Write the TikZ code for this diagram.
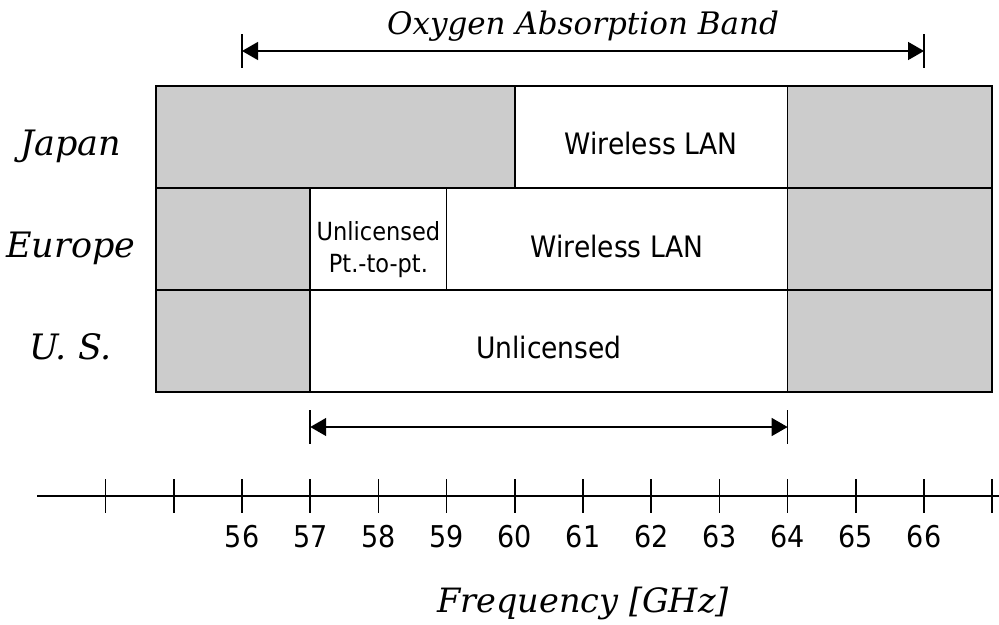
\documentclass[tikz,border=0pt]{standalone}
\usepackage{fontspec}
\setmainfont{DejaVu Serif}
\setsansfont{DejaVu Sans Condensed}
\usetikzlibrary{arrows.meta}

\tikzset{
  band/.style={draw=black, line width=1.5pt, fill=white},
  blocked/.style={band, fill=gray!40},
  celltext/.style={font=\sffamily\fontsize{29.5}{30}\selectfont, anchor=base, inner sep=0pt},
  smalltext/.style={font=\sffamily\fontsize{25}{32}\selectfont, align=center, inner sep=0pt},
  rowname/.style={font=\itshape\fontsize{35}{40}\selectfont, anchor=base, inner sep=0pt},
  caption/.style={font=\itshape\fontsize{31}{34}\selectfont, anchor=base, inner sep=0pt},
  ticklabel/.style={font=\sffamily\fontsize{30}{30}\selectfont, anchor=base, inner sep=0pt},
  rule/.style={line width=1.5pt},
  span/.style={rule, {Triangle[length=16pt,width=18pt]}-{Triangle[length=16pt,width=18pt]}}
}

\begin{document}
\begin{tikzpicture}[x=68.2pt, y=-1pt]
  \useasboundingbox (52.452,0) rectangle (67.1,624);
  % Oxygen absorption band
  \node[caption] (oxlabel) at (61,34) {Oxygen Absorption Band};
  \coordinate (oxl) at (56,51);
  \coordinate (oxr) at (66,51);
  \draw[rule] (56,34) -- (56,68);
  \draw[rule] (66,34) -- (66,68);
  \draw[span] (oxl) -- (oxr);
  % Japan
  \draw[blocked] (54.74,86) rectangle (60,188);
  \draw[band] (60,86) rectangle (64,188);
  \draw[blocked] (64,86) rectangle (67,188);
  % Europe
  \draw[blocked] (54.74,188) rectangle (57,290);
  \draw[band] (57,188) rectangle (59,290);
  \draw[band] (59,188) rectangle (64,290);
  \draw[blocked] (64,188) rectangle (67,290);
  % U. S.
  \draw[blocked] (54.74,290) rectangle (57,392);
  \draw[band] (57,290) rectangle (64,392);
  \draw[blocked] (64,290) rectangle (67,392);
  % row names
  \node[rowname] (japan) at (53.49,155) {Japan};
  \node[rowname] (europe) at (53.49,257) {Europe};
  \node[rowname] (us) at (53.49,359) {U.\ S.};
  % cell texts
  \node[celltext] (jwlan) at (62,154) {Wireless LAN};
  \node[celltext] (ewlan) at (61.5,257) {Wireless LAN};
  \node[smalltext] (eptp) at (58,250) {Unlicensed\\Pt.-to-pt.};
  \node[celltext] (uslic) at (60.5,358) {Unlicensed};
  % unlicensed range
  \coordinate (ull) at (57,427);
  \coordinate (ulr) at (64,427);
  \draw[rule] (57,410) -- (57,444);
  \draw[rule] (64,410) -- (64,444);
  \draw[span] (ull) -- (ulr);
  % frequency axis
  \coordinate (axl) at (53,496);
  \coordinate (axr) at (67.1,496);
  \draw[rule] (axl) -- (axr);
  \foreach \f in {54,...,67}{
    \draw[rule] (\f,479) -- (\f,513);
  }
  \foreach \f in {56,...,66}{
    \node[ticklabel] (f\f) at (\f,547) {\f};
  }
  \node[caption, font=\itshape\fontsize{33.5}{36}\selectfont] (freqlabel) at (61,612) {Frequency [GHz]};
\end{tikzpicture}
\end{document}
